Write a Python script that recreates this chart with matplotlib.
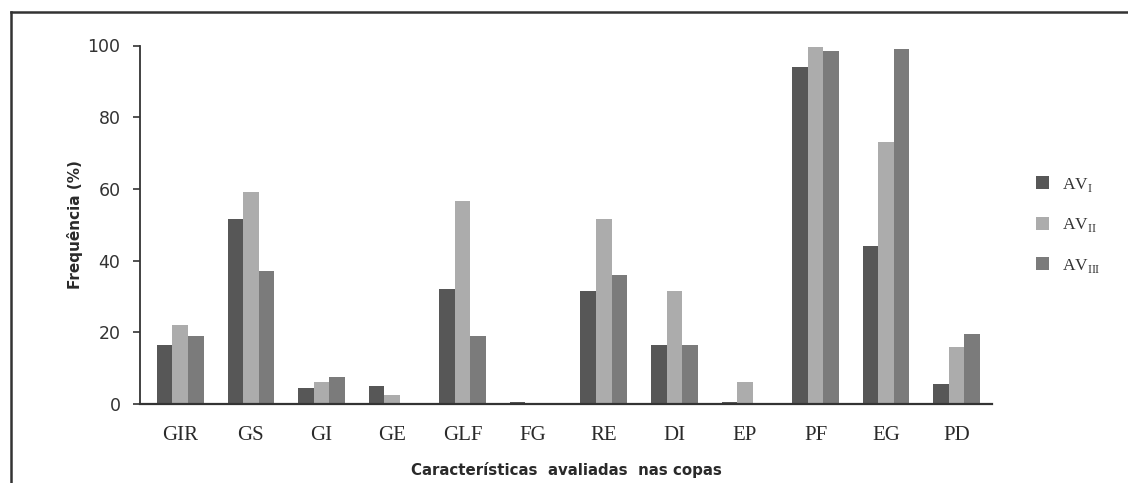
import matplotlib
matplotlib.use("Agg")
import matplotlib.pyplot as plt
from matplotlib.lines import Line2D
import numpy as np

plt.rcParams["mathtext.fontset"] = "custom"
plt.rcParams["mathtext.rm"] = "Liberation Serif"

categories = ["GIR", "GS", "GI", "GE", "GLF", "FG", "RE", "DI", "EP", "PF", "EG", "PD"]
av1 = [16.5, 51.5, 4.5, 5, 32, 0.5, 31.5, 16.5, 0.5, 94, 44, 5.5]
av2 = [22, 59, 6, 2.5, 56.5, 0, 51.5, 31.5, 6, 99.5, 73, 16]
av3 = [19, 37, 7.5, 0, 19, 0, 36, 16.5, 0, 98.5, 99, 19.5]
series_labels = [r"AV$_{\mathrm{I}}$", r"AV$_{\mathrm{II}}$", r"AV$_{\mathrm{III}}$"]
colors = ["#575757", "#acacac", "#7b7b7b"]
yticks = [0, 20, 40, 60, 80, 100]

fig = plt.figure(figsize=(11.28, 4.83), dpi=100)
ax = fig.add_axes([140/1128, 1 - 404/483, (992-140)/1128, (404-45.5)/483])

x = np.arange(len(categories))
w = 0.22
for i, (vals, lab, c) in enumerate(zip([av1, av2, av3], series_labels, colors)):
    ax.bar(x + (i - 1) * w, vals, width=w, color=c, label=lab, edgecolor="none")

ax.set_xlim(-0.57, 11.5)
ax.set_ylim(0, 100)
ax.set_yticks(yticks)
ax.set_yticklabels([str(t) for t in yticks], fontsize=12.5, family="DejaVu Sans", color="#333333")
ax.set_xticks(x)
ax.set_xticklabels(categories, family="Liberation Serif", fontsize=15, color="#2a2a2a")
ax.tick_params(axis="x", length=0, pad=16)
ax.tick_params(axis="y", length=5, width=1.2, color="#333333", direction="out", pad=9)
for s in ["top", "right"]:
    ax.spines[s].set_visible(False)
ax.spines["left"].set_color("#333333")
ax.spines["bottom"].set_color("#333333")
ax.spines["left"].set_linewidth(1.3)
ax.spines["bottom"].set_linewidth(1.6)

ax.set_ylabel("Frequência (%)", fontsize=11, fontweight="bold", family="DejaVu Sans", labelpad=3, color="#2a2a2a")
ax.set_xlabel("Características  avaliadas  nas copas", fontsize=10.8, fontweight="bold",
              family="DejaVu Sans", labelpad=12, color="#2a2a2a")

leg = ax.legend(loc="center left", bbox_to_anchor=(1.033, 0.4986), frameon=False,
                prop={"family": "Liberation Serif", "size": 12.5},
                handlelength=0.75, handleheight=0.75, labelspacing=1.3, handletextpad=0.75)
for t in leg.get_texts():
    t.set_color("#333333")

fig.add_artist(Line2D([11/1128, 1.0], [1 - 12/483, 1 - 12/483], transform=fig.transFigure,
                      color="#333333", linewidth=1.8))
fig.add_artist(Line2D([11/1128, 11/1128], [0.0, 1 - 12/483], transform=fig.transFigure,
                      color="#333333", linewidth=1.8))

fig.savefig("out.png", dpi=100)
